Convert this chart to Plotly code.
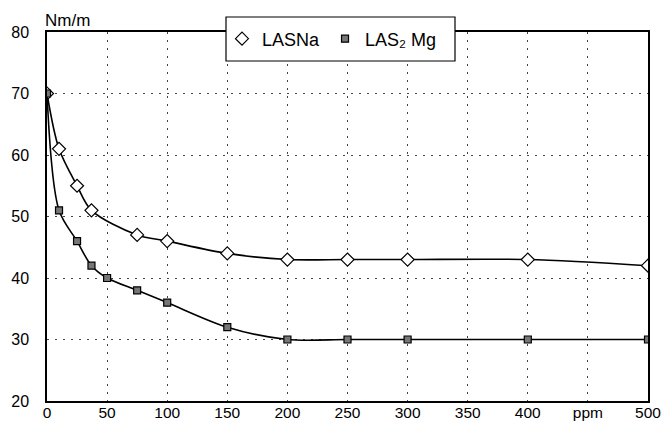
import plotly.graph_objects as go

# Data
x_lasna = [0, 10, 25, 37, 75, 100, 150, 200, 250, 300, 400, 500]
y_lasna = [70, 61, 55, 51, 47, 46, 44, 43, 43, 43, 43, 42]

x_las2mg = [0, 10, 25, 37, 50, 75, 100, 150, 200, 250, 300, 400, 500]
y_las2mg = [70, 51, 46, 42, 40, 38, 36, 32, 30, 30, 30, 30, 30]

x_tickvals = [0, 50, 100, 150, 200, 250, 300, 350, 400, 450, 500]
x_ticktext = ["0", "50", "100", "150", "200", "250", "300", "350", "400", "ppm", "500"]
y_tickvals = [20, 30, 40, 50, 60, 70, 80]

name_a = "LASNa"
name_b = "LAS₂ Mg"

FONT = "Liberation Sans, Arial, sans-serif"

# plot-area geometry (pixels)
L, R, T, B = 47, 17, 32, 21
W, H = 665, 422
PW, PH = W - L - R, H - T - B

def px_x(p):
    return (p - L) / PW

def px_y(p):
    return (H - B - p) / PH

fig = go.Figure()

fig.add_trace(go.Scatter(
    x=x_lasna, y=y_lasna, mode="lines+markers", name=name_a, showlegend=False,
    line=dict(color="black", width=1.6, shape="spline", smoothing=0.9),
    marker=dict(symbol="diamond", size=10, color="white",
                line=dict(color="black", width=1.2)),
))
fig.add_trace(go.Scatter(
    x=x_las2mg, y=y_las2mg, mode="lines+markers", name=name_b, showlegend=False,
    line=dict(color="black", width=1.6, shape="spline", smoothing=0.9),
    marker=dict(symbol="square", size=7, color="#777777",
                line=dict(color="black", width=1.2)),
))
# legend-only entries (markers only, as in the reference)
fig.add_trace(go.Scatter(
    x=[None], y=[None], mode="markers", name=name_a,
    marker=dict(symbol="diamond", size=10, color="white",
                line=dict(color="black", width=1.2)),
))
fig.add_trace(go.Scatter(
    x=[None], y=[None], mode="markers", name=name_b,
    marker=dict(symbol="square", size=7, color="#777777",
                line=dict(color="black", width=1.2)),
))

grid = dict(showgrid=True, gridcolor="#444444", griddash="2px,6px", gridwidth=1.2,
            showline=True, linecolor="black", linewidth=1.5, mirror=True,
            ticks="", zeroline=False, automargin=False)

fig.update_layout(
    width=W, height=H,
    margin=dict(l=L, r=R, t=T, b=B),
    paper_bgcolor="white", plot_bgcolor="white",
    font=dict(family=FONT, size=16, color="black"),
    legend=dict(
        orientation="h", x=px_x(222), y=px_y(39), xanchor="left", yanchor="middle",
        bgcolor="rgba(0,0,0,0)", borderwidth=0,
        font=dict(size=18), itemwidth=30,
    ),
    xaxis=dict(range=[0, 500], tickvals=x_tickvals, ticktext=x_ticktext,
               ticklabelstandoff=-3, tickfont=dict(size=15.5), **grid),
    yaxis=dict(range=[20, 80], tickvals=y_tickvals,
               ticklabelstandoff=13, **grid),
    shapes=[dict(
        type="rect", xref="paper", yref="paper", layer="above",
        x0=px_x(226), x1=px_x(455), y0=px_y(61), y1=px_y(17),
        fillcolor="white", line=dict(color="black", width=1.2),
    )],
    annotations=[dict(
        text="Nm/m", xref="paper", yref="paper", x=0, y=1.0,
        xanchor="left", yanchor="bottom", showarrow=False,
        font=dict(size=17), yshift=0, xshift=-4,
    )],
)

fig.write_html("out.html")
